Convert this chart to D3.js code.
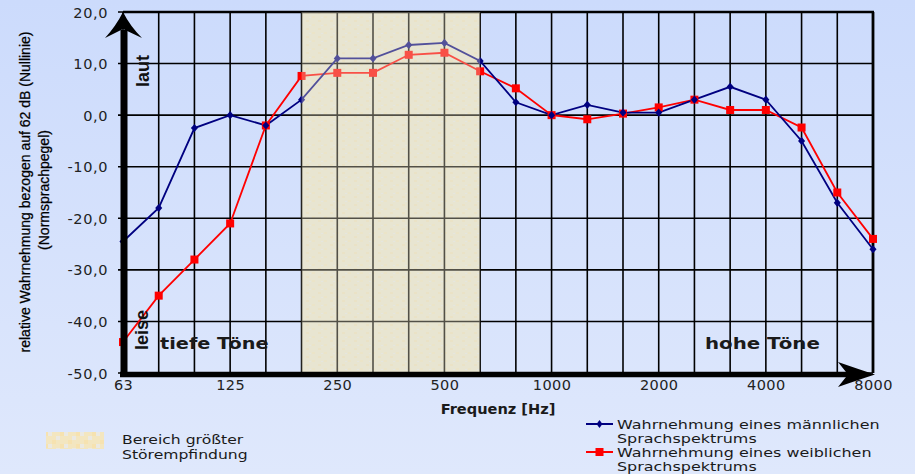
<!DOCTYPE html>
<html><head><meta charset="utf-8">
<script src="https://cdn.jsdelivr.net/npm/d3@7"></script>
<style>html,body{margin:0;padding:0;overflow:hidden;}svg{display:block;}</style>
</head><body>
<svg id="c" width="915" height="474"></svg>
<script>
const freqs = ["63","80","100","125","160","200","250","315","400","500","630","800","1000","1250","1600","2000","2500","3150","4000","5000","6300","8000"];
const tickFreqs = ["63","125","250","500","1000","2000","4000","8000"];
const male = [-24.5,-18,-2.5,0,-2,3,11,11,13.6,14,10.5,2.5,0,2,0.5,0.5,3,5.5,3,-5,-17,-26];
const female = [-44,-35,-28,-21,-2,7.6,8.2,8.2,11.7,12.1,8.5,5.2,0,-0.8,0.3,1.5,3,1,1,-2.4,-15,-24];
const yTicks = [-50,-40,-30,-20,-10,0,10,20];
const shadeRange = ["200","630"];
const seriesNames = ["Wahrnehmung eines männlichen|Sprachspektrums","Wahrnehmung eines weiblichen|Sprachspektrums"];
const shadeName = "Bereich größter|Störempfindung";

const svg = d3.select("#c");
const F = "'DejaVu Sans', sans-serif";
const FN = "'Liberation Sans Narrow', 'Arial Narrow', sans-serif";

const defs = svg.append("defs");
const g = defs.append("linearGradient").attr("id","bg").attr("x1",0).attr("y1",0).attr("x2",0).attr("y2",1);
g.append("stop").attr("offset","0").attr("stop-color","#ccdbfc");
g.append("stop").attr("offset","1").attr("stop-color","#dfe8fc");
const pat = defs.append("pattern").attr("id","chk").attr("width",12).attr("height",8).attr("patternUnits","userSpaceOnUse");
pat.append("rect").attr("width",12).attr("height",8).attr("fill","#e6e5d4");
pat.append("rect").attr("x",0).attr("y",0).attr("width",3).attr("height",2).attr("fill","#ece3c6");
pat.append("rect").attr("x",6).attr("y",4).attr("width",3).attr("height",2).attr("fill","#eae1c4");
pat.append("rect").attr("x",9).attr("y",1).attr("width",2).attr("height",1).attr("fill","#e2e6ea");
const pat2 = defs.append("pattern").attr("id","chk2").attr("width",16).attr("height",12).attr("patternUnits","userSpaceOnUse");
pat2.append("rect").attr("width",16).attr("height",12).attr("fill","#f3e6c0");
pat2.append("rect").attr("x",0).attr("y",0).attr("width",4).attr("height",4).attr("fill","#ebe9e2");
pat2.append("rect").attr("x",8).attr("y",4).attr("width",4).attr("height",4).attr("fill","#ebe9e2");
pat2.append("rect").attr("x",4).attr("y",8).attr("width",4).attr("height",4).attr("fill","#f6e2b0");
pat2.append("rect").attr("x",12).attr("y",0).attr("width",4).attr("height",4).attr("fill","#f6e2b0");

svg.append("rect").attr("width",915).attr("height",474).attr("fill","url(#bg)");

const x = d3.scalePoint().domain(freqs).range([123,873]);
const y = d3.scaleLinear().domain([-50,20]).range([373,12]);

const sx0 = x(shadeRange[0]), sx1 = x(shadeRange[1]);
svg.append("rect").attr("x",sx0).attr("y",y(20)).attr("width",sx1-sx0).attr("height",y(-50)-y(20)).attr("fill","url(#chk)");

const grid = svg.append("g");
grid.selectAll("line.v").data(freqs).join("line")
  .attr("x1",d=>x(d)).attr("x2",d=>x(d)).attr("y1",y(20)).attr("y2",y(-50))
  .attr("stroke","#000").attr("stroke-width",1.6);
grid.selectAll("line.h").data(yTicks).join("line")
  .attr("x1",x("63")-5).attr("x2",x("8000")).attr("y1",d=>y(d)).attr("y2",d=>y(d))
  .attr("stroke","#000").attr("stroke-width",1.6);
svg.append("line").attr("x1",x("63")).attr("x2",x("8000")+1).attr("y1",y(20)).attr("y2",y(20)).attr("stroke","#000").attr("stroke-width",2.4);
svg.append("line").attr("x1",x("8000")).attr("x2",x("8000")).attr("y1",y(20)).attr("y2",y(-50)).attr("stroke","#000").attr("stroke-width",2.8);

const line = d3.line().x((d,i)=>x(freqs[i])).y(d=>y(d));
svg.append("path").datum(female).attr("d",line).attr("fill","none").attr("stroke","#ff0000").attr("stroke-width",1.8);
svg.append("path").datum(male).attr("d",line).attr("fill","none").attr("stroke","#000080").attr("stroke-width",1.8);
const dsym = d3.symbol().type(d3.symbolDiamond).size(30);
svg.selectAll("rect.fm").data(female).join("rect").attr("class","fm").attr("x",(d,i)=>x(freqs[i])-4).attr("y",d=>y(d)-4).attr("width",8).attr("height",8).attr("fill","#ff0000");
svg.selectAll("path.mm").data(male).join("path").attr("class","mm").attr("d",dsym).attr("transform",(d,i)=>`translate(${x(freqs[i])},${y(d)}) scale(1.2,0.8)`).attr("fill","#000080");

svg.append("rect").attr("x",sx0).attr("y",y(20)).attr("width",sx1-sx0).attr("height",y(-50)-y(20)).attr("fill","#ece6cc").attr("opacity",0.35);

svg.append("line").attr("x1",124).attr("x2",124).attr("y1",30).attr("y2",377).attr("stroke","#000").attr("stroke-width",7);
svg.append("path").attr("d","M123,12 Q130,26 142,38 L123,29 L105,38 Q116,26 123,12 Z").attr("fill","#000");
svg.append("line").attr("x1",120).attr("x2",848).attr("y1",374.5).attr("y2",374.5).attr("stroke","#000").attr("stroke-width",5.5);
svg.append("path").attr("d","M875,374.5 Q858,380 838,387 L848,374.5 L838,362 Q858,369 875,374.5 Z").attr("fill","#000");

const yAxis = d3.axisLeft(y).tickValues(yTicks).tickSize(0).tickPadding(15)
  .tickFormat(d => d.toFixed(1).replace(".",",").replace("\u2212","-"));
const ya = svg.append("g").attr("transform","translate(123,0)").call(yAxis);
ya.select(".domain").remove();
ya.selectAll("text").attr("font-family",F).attr("font-size",14.5).attr("letter-spacing",0.6).attr("fill","#222").attr("dy","0.35em");

const xAxis = d3.axisBottom(x).tickValues(tickFreqs).tickSize(0).tickPadding(6);
const xa = svg.append("g").attr("transform","translate(0,374)").call(xAxis);
xa.select(".domain").remove();
xa.selectAll("text").attr("font-family",F).attr("font-size",14.5).attr("letter-spacing",0.4).attr("fill","#222");

function wtext(x0,y0,sx,txt,size,weight,anchor){
  return svg.append("text").attr("transform",`translate(${x0},${y0}) scale(${sx},1)`)
    .attr("text-anchor",anchor||"start").attr("font-family",F).attr("font-weight",weight||"normal")
    .attr("font-size",size).attr("fill","#1a1a1a").text(txt);
}
wtext(498,414,1.08,"Frequenz [Hz]",13.5,"bold","middle");
svg.append("text").attr("transform","translate(30,192) rotate(-90)").attr("text-anchor","middle").attr("font-family",FN).attr("font-size",14).attr("fill","#000").attr("stroke","#000").attr("stroke-width",0.25).text("relative Wahrnehmung bezogen auf 62 dB (Nullinie)");
svg.append("text").attr("transform","translate(49,190) rotate(-90)").attr("text-anchor","middle").attr("font-family",FN).attr("font-size",14).attr("fill","#000").attr("stroke","#000").attr("stroke-width",0.25).text("(Normsprachpegel)");
svg.append("text").attr("transform","translate(149,71) rotate(-90)").attr("text-anchor","middle").attr("font-family",FN).attr("font-weight","bold").attr("font-size",18).attr("fill","#111").text("laut");
svg.append("text").attr("transform","translate(148,330) rotate(-90)").attr("text-anchor","middle").attr("font-family",FN).attr("font-weight","bold").attr("font-size",18).attr("fill","#111").text("leise");
wtext(160,349,1.17,"tiefe Töne",16.5,"bold");
wtext(705,349,1.2,"hohe Töne",16.5,"bold");

svg.append("rect").attr("x",46).attr("y",432).attr("width",58).attr("height",17).attr("fill","url(#chk2)");
shadeName.split("|").forEach((t,i)=>wtext(122,444+i*14.5,1.25,t,12.5));
const cols = ["#000080","#ff0000"];
seriesNames.forEach((nm,k)=>{
  const yy = 424 + k*28;
  svg.append("line").attr("x1",586).attr("x2",613).attr("y1",yy).attr("y2",yy).attr("stroke",cols[k]).attr("stroke-width",2);
  if(k===0) svg.append("path").attr("d",dsym).attr("transform",`translate(599.5,${yy}) scale(1,0.8)`).attr("fill",cols[k]);
  else svg.append("rect").attr("x",595.5).attr("y",yy-4).attr("width",8).attr("height",8).attr("fill",cols[k]);
  nm.split("|").forEach((t,i)=>wtext(617,yy+5+i*14,1.33,t,12));
});
</script>
</body></html>
